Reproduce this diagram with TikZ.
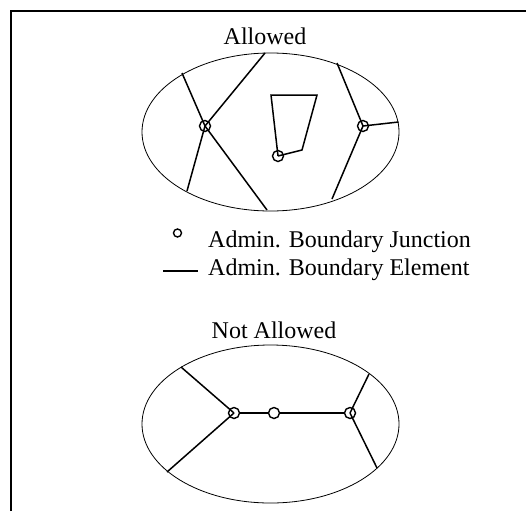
\documentclass[tikz,border=0pt]{standalone}
\usepackage{fontspec}
\setmainfont{Liberation Serif}
\begin{document}
\begin{tikzpicture}[x=1pt,y=-1pt,
  lbl/.style={anchor=base west,inner sep=0pt,font=\fontsize{24}{28}\selectfont},
  ttl/.style={anchor=base,inner sep=0pt,font=\fontsize{24}{28}\selectfont},
  junc/.style={draw,circle,line width=1.4pt,inner sep=0pt,minimum size=11pt},
  bnd/.style={line width=1.5pt},
  oval/.style={line width=0.8pt}]
\useasboundingbox (0,0) rectangle (526,511);
% frame
\draw[line width=2.5pt] (10.8,511) coordinate (fl) -- (10.8,10.8) coordinate (fc) -- (526,10.8) coordinate (fr);
% upper part
\node[ttl] (t1) at (265,45) {Allowed};
\draw[oval] (270.5,132) ellipse [x radius=128.5, y radius=79];
\node[junc] (a1) at (205,126) {};
\node[junc] (a2) at (363,126) {};
\node[junc] (a3) at (278,156) {};
\coordinate (e1) at (182,73);
\coordinate (e2) at (265,53);
\coordinate (e3) at (187,191);
\coordinate (e4) at (267,210);
\coordinate (e5) at (337,63);
\coordinate (e6) at (398.5,122);
\coordinate (e7) at (332,199);
\coordinate (p1) at (271,95);
\coordinate (p2) at (317,95);
\coordinate (p3) at (302,150);
\draw[bnd] (a1.center) -- (e1);
\draw[bnd] (a1.center) -- (e2);
\draw[bnd] (a1.center) -- (e3);
\draw[bnd] (a1.center) -- (e4);
\draw[bnd] (a2.center) -- (e5);
\draw[bnd] (a2.center) -- (e6);
\draw[bnd] (a2.center) -- (e7);
\draw[bnd,line join=miter] (a3.center) -- (p1) -- (p2) -- (p3) -- (a3.center);
% legend
\node[draw,circle,line width=1.4pt,inner sep=0pt,minimum size=8pt] (lc) at (177.5,233) {};
\node[lbl] (l1) at (208,247) {Admin. Boundary Junction};
\coordinate (ls) at (163,271);
\coordinate (le) at (198,271);
\draw[bnd] (ls) -- (le);
\node[lbl] (l2) at (208,275) {Admin. Boundary Element};
% lower part
\node[ttl] (t2) at (274,338) {Not Allowed};
\draw[oval] (270.5,424) ellipse [x radius=128.5, y radius=79];
\node[junc] (b1) at (234,413) {};
\node[junc] (b2) at (274,413) {};
\node[junc] (b3) at (350,413) {};
\coordinate (f1) at (181,367);
\coordinate (f2) at (167,472);
\coordinate (f3) at (369,374);
\coordinate (f4) at (377,468);
\draw[bnd] (b1.center) -- (f1);
\draw[bnd] (b1.center) -- (f2);
\draw[bnd] (b1) -- (b2);
\draw[bnd] (b2) -- (b3);
\draw[bnd] (b3.center) -- (f3);
\draw[bnd] (b3.center) -- (f4);
\end{tikzpicture}
\end{document}
